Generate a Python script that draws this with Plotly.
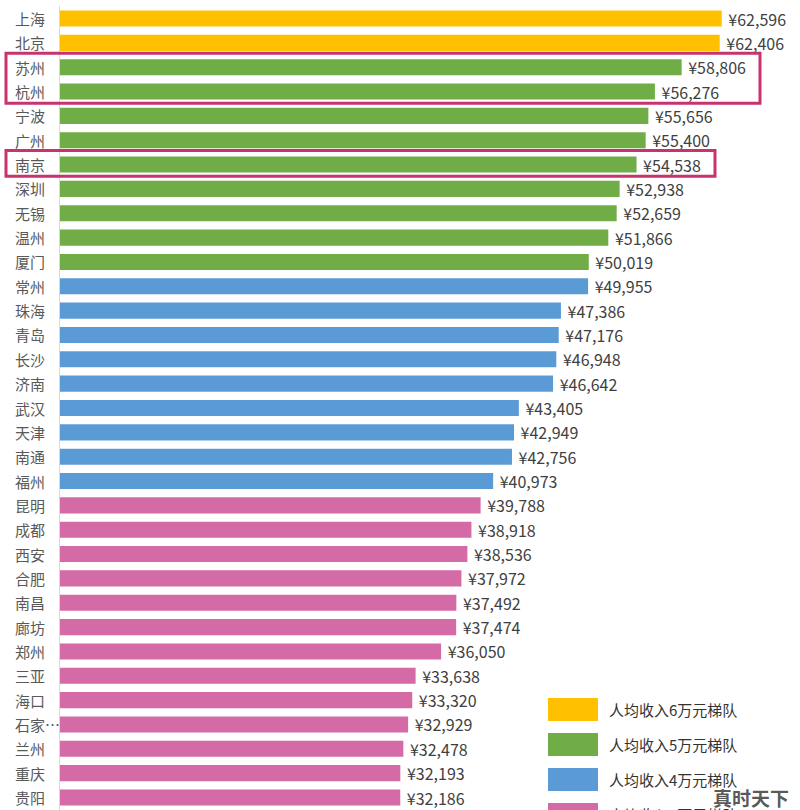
import plotly.graph_objects as go

cities = ["上海", "北京", "苏州", "杭州", "宁波", "广州", "南京", "深圳", "无锡", "温州", "厦门",
          "常州", "珠海", "青岛", "长沙", "济南", "武汉", "天津", "南通", "福州",
          "昆明", "成都", "西安", "合肥", "南昌", "廊坊", "郑州", "三亚", "海口", "石家…",
          "兰州", "重庆", "贵阳"]
income = [62596, 62406, 58806, 56276, 55656, 55400, 54538, 52938, 52659, 51866, 50019,
          49955, 47386, 47176, 46948, 46642, 43405, 42949, 42756, 40973,
          39788, 38918, 38536, 37972, 37492, 37474, 36050, 33638, 33320, 32929,
          32478, 32193, 32186]
tier_names = ["人均收入6万元梯队", "人均收入5万元梯队", "人均收入4万元梯队", "人均收入3万元梯队"]
tier_colors = ["#FFC000", "#70AD47", "#5B9BD5", "#D46AA6"]
tiers = [0, 0, 1, 1, 1, 1, 1, 1, 1, 1, 1,
         2, 2, 2, 2, 2, 2, 2, 2, 2,
         3, 3, 3, 3, 3, 3, 3, 3, 3, 3,
         3, 3, 3]

labels = ["¥{:,}".format(v) for v in income]
colors = [tier_colors[t] for t in tiers]

fig = go.Figure()
fig.add_trace(go.Bar(
    y=cities, x=income, orientation="h",
    marker=dict(color=colors, line=dict(width=0)),
    text=labels, texttemplate=" %{text}", textposition="outside", cliponaxis=False,
    constraintext="none",
    textfont=dict(family="Noto Sans CJK SC", size=16, color="#404040"),
    showlegend=False, hoverinfo="skip",
))

W0, W1 = 60, 800
H = 810
T, B = 6, 0

def px_x(p):
    return (p - W0) / (W1 - W0)

def px_y(p):
    return (H - B - p) / (H - T - B)

shapes = []
annotations = []

# category labels, left aligned like the reference
for c in cities:
    annotations.append(dict(xref="paper", yref="y", x=px_x(13), y=c, text=c,
                            showarrow=False, xanchor="left", yanchor="middle",
                            font=dict(family="Noto Sans CJK SC", size=15, color="#595959")))

# highlight boxes
box_color = "#C8336F"
shapes.append(dict(type="rect", xref="paper", yref="y", x0=px_x(6), x1=px_x(760),
                   y0=1.43, y1=3.48, line=dict(color=box_color, width=3), layer="above"))
shapes.append(dict(type="rect", xref="paper", yref="y", x0=px_x(6), x1=px_x(715),
                   y0=5.42, y1=6.48, line=dict(color=box_color, width=3), layer="above"))

# custom legend
leg_tops = [698, 733, 768, 803]
for name, col, top in zip(tier_names, tier_colors, leg_tops):
    shapes.append(dict(type="rect", xref="paper", yref="paper",
                       x0=px_x(548), x1=px_x(598), y0=px_y(top + 23), y1=px_y(top),
                       fillcolor=col, line=dict(width=0)))
    annotations.append(dict(xref="paper", yref="paper", x=px_x(607), y=px_y(top + 11.5),
                            text=name, showarrow=False, xanchor="left", yanchor="middle",
                            font=dict(family="Noto Sans CJK SC", size=15, color="#333333")))

# watermark
annotations.append(dict(xref="paper", yref="paper", x=px_x(751), y=px_y(797),
                        text="<b>真时天下</b>", showarrow=False, xanchor="center", yanchor="middle",
                        font=dict(family="Noto Sans CJK SC", size=19, color="rgba(60,60,60,0.85)")))

fig.update_layout(
    width=800, height=H,
    margin=dict(l=W0, r=800 - W1, t=T, b=B, pad=0, autoexpand=False),
    paper_bgcolor="white", plot_bgcolor="white",
    bargap=0.34,
    shapes=shapes, annotations=annotations,
    xaxis=dict(range=[0, 70000], visible=False, showgrid=False, zeroline=False, automargin=False),
    yaxis=dict(autorange="reversed", showgrid=False, zeroline=False, automargin=False,
               showline=True, linecolor="#D9D9D9", linewidth=1,
               showticklabels=False, ticks=""),
)

fig.write_html("out.html", config={"displayModeBar": False},
               post_script="document.body.style.margin='0';document.body.style.overflow='hidden';")
